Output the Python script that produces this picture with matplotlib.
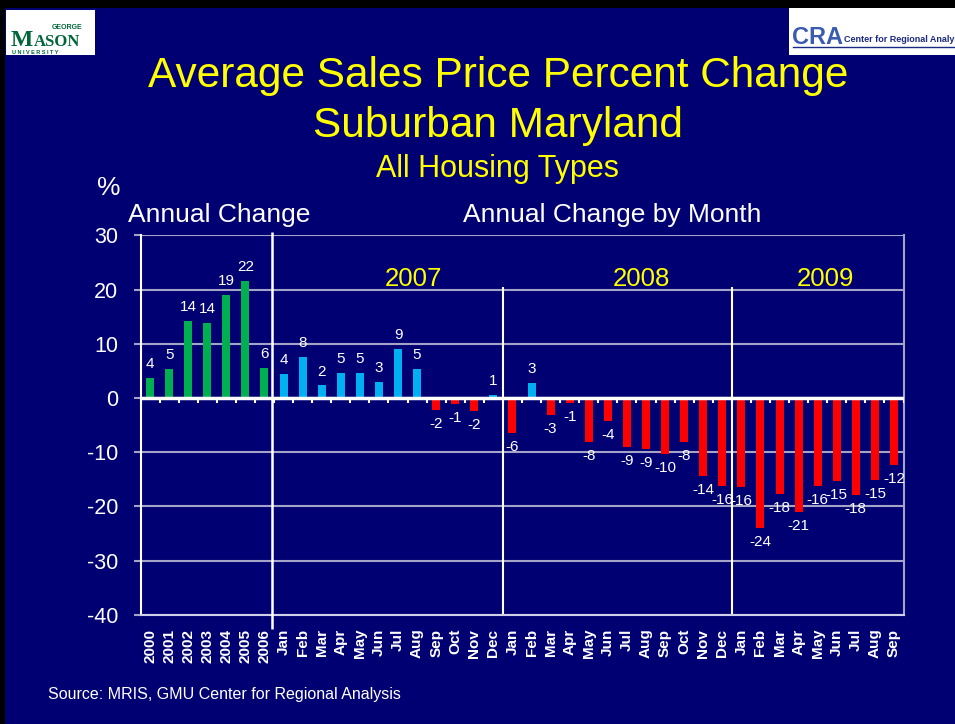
import matplotlib
matplotlib.use('Agg')
import matplotlib.pyplot as plt
import matplotlib.patches as mpatches
import numpy as np

plt.rcParams['font.family'] = ['Liberation Sans', 'DejaVu Sans']
plt.rcParams['axes.unicode_minus'] = False

# data
years = ['2000', '2001', '2002', '2003', '2004', '2005', '2006']
annual = [3.6, 5.3, 14.2, 13.8, 19.0, 21.6, 5.6]
months = ['Jan', 'Feb', 'Mar', 'Apr', 'May', 'Jun', 'Jul', 'Aug', 'Sep', 'Oct', 'Nov', 'Dec']
m2007 = [4.4, 7.6, 2.3, 4.6, 4.6, 2.9, 9.0, 5.3, -2.3, -1.1, -2.4, 0.6]
m2008 = [-6.4, 2.7, -3.1, -0.9, -8.1, -4.2, -9.1, -9.4, -10.3, -8.1, -14.4, -16.3]
m2009 = [-16.4, -24.0, -17.7, -21.1, -16.3, -15.4, -17.9, -15.2, -12.4]

cats = years + months + months + months[:len(m2009)]
vals = annual + m2007 + m2008 + m2009
monthly = m2007 + m2008 + m2009

W, H = 955, 724
NAVY = '#000072'
YELLOW = '#FFFF00'
GRID = '#A4A4C8'

def px(x, y):
    return x / W, 1 - y / H

fig = plt.figure(figsize=(W / 100, H / 100), dpi=100, facecolor=NAVY)
# black slide border on the left and top
fig.patches.append(mpatches.Rectangle((0, 0), 5 / W, 1, transform=fig.transFigure,
                                      facecolor='black', edgecolor='none'))
fig.patches.append(mpatches.Rectangle((0, 1 - 8 / H), 1, 8 / H, transform=fig.transFigure,
                                      facecolor='black', edgecolor='none'))

# logos (rough)
fig.patches.append(mpatches.Rectangle(px(6, 55), 89 / W, 45 / H, transform=fig.transFigure,
                                      facecolor='white', edgecolor='none'))
fig.text(*px(11, 46), 'M', fontsize=17, fontweight='bold', family='Liberation Serif',
         color='#00663A', va='baseline')
fig.text(*px(34, 46), 'ASON', fontsize=12, fontweight='bold', family='Liberation Serif',
         color='#00663A', va='baseline')
fig.text(*px(52, 29), 'GEORGE', fontsize=5, fontweight='bold', color='#00663A', va='baseline')
fig.text(*px(12, 54), 'U N I V E R S I T Y', fontsize=4, fontweight='bold', color='#00663A',
         va='baseline')
fig.patches.append(mpatches.Rectangle(px(789, 55), 166 / W, 47 / H, transform=fig.transFigure,
                                      facecolor='white', edgecolor='none'))
fig.text(*px(792, 44), 'CRA', fontsize=17, fontweight='bold', color='#3A5BB0', va='baseline')
fig.text(*px(844, 42), 'Center for Regional Analysis', fontsize=6.5, fontweight='bold',
         color='#1A2A80', va='baseline')
fig.lines.append(plt.Line2D([793 / W, 1], [1 - 47 / H, 1 - 47 / H], transform=fig.transFigure,
                            color='#1A2A80', lw=1))

# titles
fig.text(*px(498, 87), 'Average Sales Price Percent Change', fontsize=30.5, color=YELLOW,
         ha='center', va='baseline')
fig.text(*px(498, 137), 'Suburban Maryland', fontsize=30.5, color=YELLOW, ha='center', va='baseline')
fig.text(*px(497, 177), 'All Housing Types', fontsize=22, color=YELLOW, ha='center', va='baseline')
fig.text(*px(97, 195), '%', fontsize=19, color='white', va='baseline')
fig.text(*px(128, 222), 'Annual Change', fontsize=19, color='white', va='baseline')
fig.text(*px(463, 222), 'Annual Change by Month', fontsize=19, color='white', va='baseline')
for label, xc in [('2007', 413), ('2008', 641), ('2009', 825)]:
    fig.text(*px(xc, 286), label, fontsize=18.5, color=YELLOW, ha='center', va='baseline')

fig.text(*px(48, 699), 'Source: MRIS, GMU Center for Regional Analysis', fontsize=11.5,
         color='white', va='baseline')

# chart
ax = fig.add_axes([140.5 / W, (H - 614.8) / H, 763 / W, 379.5 / H])
ax.set_facecolor('none')
x = np.arange(len(cats))
colors = ['#00B050'] * len(annual) + ['#00B0F0' if v >= 0 else '#FF0000' for v in monthly]
ax.bar(x, vals, width=0.42, color=colors, zorder=3)

for xi, v in zip(x, vals):
    ax.annotate(f'{v:.0f}', (xi, v), xytext=(0, 5 if v >= 0 else -5), textcoords='offset points',
                ha='center', va='bottom' if v >= 0 else 'top', color='white', fontsize=11, zorder=5)

ax.set_xlim(-0.5, len(cats) - 0.5)
ax.set_ylim(-40, 30)
ax.set_yticks(range(-40, 31, 10))
ax.yaxis.grid(True, color=GRID, lw=1.5)
ax.set_axisbelow(True)

ax.set_xticks(x)
ax.set_xticklabels(cats, rotation=90, fontweight='bold')
ax.tick_params(axis='x', length=0, labelsize=11, labelcolor='white', pad=10)
ax.tick_params(axis='y', length=5, width=1.5, color=GRID, labelsize=15.5, labelcolor='white', pad=11)

ax.spines['top'].set_visible(False)
ax.spines['left'].set_color('white')
ax.spines['left'].set_linewidth(1.5)
ax.spines['right'].set_color(GRID)
ax.spines['right'].set_linewidth(1.5)
ax.spines['bottom'].set_color('#D0D0E8')
ax.spines['bottom'].set_linewidth(1.5)

ax.axhline(0, color='white', lw=2.5, zorder=4)
ax.vlines(np.arange(len(cats) + 1) - 0.5, -0.85, 0, color='white', lw=1.5, zorder=4)

# separators
ax.vlines(len(years) - 0.6, -42.7, 30.7, color='white', lw=1.8, zorder=4, clip_on=False)
ax.vlines([len(years) + 11.5, len(years) + 23.5], -40, 20.4, color='white', lw=1.5, zorder=2)

fig.savefig('out.png', dpi=100, facecolor=fig.get_facecolor())
